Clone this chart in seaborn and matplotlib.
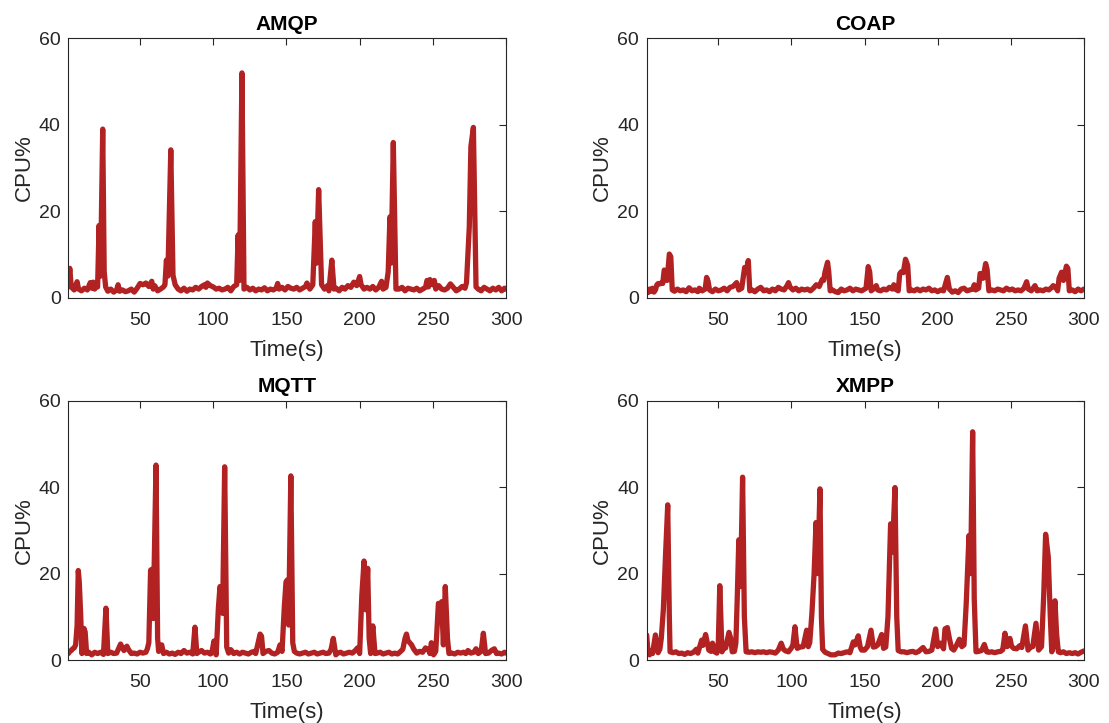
import numpy as np
import pandas as pd
import seaborn as sns
import matplotlib.pyplot as plt

LINE_COLOR = "#B22222"
AX_COLOR = "#262626"

AMQP_T = [1, 2, 3, 5, 7, 8, 10, 12, 14, 16, 17, 18, 19, 20, 21, 22, 23, 24.5, 25.5, 26.5,
          28, 30, 32, 34, 35, 36, 38, 40, 42, 44, 46, 48, 50, 52, 54, 56, 58, 59, 60, 62,
          64, 66, 67, 68, 69, 71, 72.5, 74, 76, 78, 80, 82, 84, 86, 88, 90, 92, 94, 95, 96,
          98, 100, 102, 104, 106, 108, 110, 112, 114, 116, 117, 118, 119.6, 121, 123, 125,
          127, 129, 131, 133, 135, 137, 139, 141, 143, 144, 145, 147, 149, 151, 153, 155,
          157, 159, 161, 163, 164, 166, 168, 169.7, 170.5, 172, 174, 176, 178, 179, 181,
          182.5, 184, 186, 188, 190, 192, 194, 196, 198, 200, 201, 203, 205, 207, 209, 211,
          213, 215, 216, 218, 219.5, 220.7, 221.5, 223, 224.8, 227, 229, 231, 233, 235, 237,
          239, 241, 243, 245, 246, 247, 248, 250, 251, 252, 254, 256, 258, 260, 262, 264,
          266, 268, 270, 272, 273, 274.9, 276, 277.7, 279.5, 281, 283, 285, 287, 289, 291,
          293, 295, 297, 299, 300]
AMQP_V = [2.5, 6.8, 2.5, 1.8, 3.7, 2.0, 1.6, 2.2, 1.8, 3.5, 2.2, 3.6, 2.0, 3.2, 2.5, 16.7, 5.0, 39.0, 6.0, 2.5,
          1.5, 2.0, 1.3, 1.8, 3.0, 1.5, 1.8, 1.4, 1.6, 2.0, 1.3, 2.2, 3.3, 3.0, 3.4, 2.6, 3.8, 2.0, 2.8, 1.6,
          2.0, 2.5, 3.0, 8.7, 5.0, 34.2, 5.2, 3.0, 2.0, 1.6, 2.2, 1.5, 2.0, 1.8, 2.4, 2.0, 2.6, 3.0, 2.4, 3.4,
          2.8, 2.5, 2.0, 2.2, 1.8, 2.0, 2.4, 1.6, 2.6, 3.0, 14.5, 4.0, 52.0, 2.0, 2.4, 1.8,
          2.2, 1.6, 2.0, 1.8, 2.3, 1.6, 2.0, 1.8, 2.2, 3.3, 2.0, 2.4, 1.8, 2.6, 2.2, 2.0,
          2.4, 1.8, 2.2, 2.6, 3.4, 2.0, 3.0, 17.6, 8.0, 25.0, 3.0, 2.0, 2.8, 1.6, 8.7,
          2.0, 2.2, 1.6, 2.4, 2.0, 2.8, 2.4, 3.6, 2.8, 4.9, 3.0, 2.0, 2.4, 2.0, 2.6, 1.8,
          2.4, 3.8, 2.0, 2.4, 6.0, 18.7, 8.0, 35.9, 2.0, 2.0, 2.4, 1.6, 2.2, 2.0, 1.8,
          2.2, 1.6, 2.0, 2.4, 4.0, 2.5, 4.2, 3.0, 4.0, 2.0, 2.8, 2.0, 1.8, 2.2, 3.2, 2.4,
          1.6, 2.0, 2.6, 2.2, 3.5, 16.4, 35.0, 39.4, 2.5, 2.0, 1.6, 2.4, 2.0, 1.6, 2.2,
          1.8, 2.4, 1.6, 2.2, 2.0]

COAP_T = [1, 2, 3, 4, 5, 6, 7, 8, 9, 10, 11, 12, 13, 14, 15, 16.5, 17.5, 18.5, 20, 22, 24, 26,
          28, 30, 32, 34, 36, 37, 39, 41, 42, 43, 44, 46, 48, 50, 52, 54, 56, 58, 60, 62.5,
          64, 66, 68, 69, 70.5, 71.5, 73, 75, 77, 79, 81, 83, 85, 87, 89, 91, 93, 95, 97,
          98, 99, 101, 103, 105, 107, 109, 111, 113, 115, 117, 119, 121, 122, 123, 124.7,
          125.5, 126.5, 128, 130, 132, 134, 136, 138, 140, 142, 144, 146, 148, 150, 151,
          152.5, 153.5, 154.5, 156, 158, 159, 161, 163, 165, 167, 169, 170, 171, 173, 174,
          175, 176.5, 178, 179.5, 180.5, 182, 184, 186, 188, 190, 192, 194, 196, 198, 200,
          202, 204, 206.6, 208, 210, 212, 214, 216, 218, 220, 222, 224, 225, 226, 228, 229,
          230, 231, 232.8, 233.8, 235, 237, 239, 241, 243, 245, 247, 249, 251, 253, 255,
          257, 259, 260.8, 262, 264, 266.5, 268, 270, 272, 274, 276, 278, 279, 281, 282,
          283, 284.7, 286, 288, 289, 290, 292, 294, 296, 298, 300]
COAP_V = [1.8, 1.2, 2.0, 1.5, 2.2, 1.3, 1.8, 3.0, 3.3, 3.2, 3.4, 3.3, 6.4, 6.0, 4.0, 10.1, 9.5, 1.8, 1.5, 2.0, 1.6, 1.8,
          1.4, 2.3, 1.6, 1.8, 1.4, 2.2, 1.6, 2.0, 4.7, 3.8, 1.8, 1.4, 2.0, 1.6, 1.8, 2.2, 1.6, 2.4, 2.6, 3.5,
          1.8, 2.2, 7.0, 6.0, 8.6, 1.6, 1.8, 1.4, 2.0, 2.4, 1.6, 1.8, 1.4, 2.0, 1.6, 2.4, 2.0, 1.8, 2.8,
          3.5, 2.5, 1.8, 2.2, 1.6, 2.0, 1.8, 2.0, 1.6, 2.2, 3.0, 2.6, 4.2, 4.0, 6.0, 8.2,
          6.0, 1.6, 1.8, 1.4, 1.2, 2.0, 1.6, 1.8, 2.2, 1.6, 2.0, 1.8, 1.6, 2.0, 2.2,
          7.2, 6.0, 1.6, 2.0, 2.8, 1.8, 1.6, 2.0, 1.8, 2.4, 2.0, 3.0, 2.0, 1.6, 5.5,
          6.0, 5.8, 8.9, 7.5, 1.6, 1.8, 1.6, 2.0, 1.6, 2.0, 1.8, 2.2, 1.6, 1.8, 1.4,
          1.8, 1.6, 4.7, 2.0, 1.3, 1.6, 1.2, 2.0, 2.2, 1.6, 1.8, 2.0, 3.0, 1.8, 2.2, 5.6,
          5.4, 4.5, 7.9, 6.5, 1.6, 1.8, 1.6, 2.0, 1.8, 1.6, 2.2, 1.8, 2.0, 1.6, 1.8,
          1.6, 2.2, 3.7, 2.0, 1.6, 2.8, 1.6, 1.8, 1.6, 2.0, 1.8, 2.4, 2.8, 2.2, 1.6,
          4.5, 5.9, 4.0, 7.3, 6.8, 1.6, 1.8, 1.4, 2.0, 1.6, 2.0]

MQTT_T = [1, 2, 3, 4, 5, 6, 7, 7.8, 8.5, 9.5, 10.3, 11.7, 12.5, 13.5, 15, 17, 19, 21, 23, 25,
          26.7, 28, 30, 32, 34, 36.7, 38, 39, 41, 42, 44, 46, 48, 50, 52, 54, 55, 56, 57.2,
          58.2, 59, 60.9, 62, 62.7, 64.8, 66, 68, 70, 72, 74, 76, 78, 80, 82, 84, 86, 87.5,
          88.8, 90, 92, 94, 96, 98, 99, 100.5, 102, 103.5, 104.6, 105.5, 106.4, 107.8, 109.2,
          110.5, 112, 114, 116, 118, 120, 122, 124, 126, 128, 129, 131, 132, 133, 134, 136,
          138, 140, 142, 144, 145.6, 147, 148.5, 149.7, 150.5, 151.5, 153, 154.3, 155.4, 157,
          159, 161, 163, 165, 167, 169, 171, 173, 175, 177, 179, 180.5, 182, 183.7, 185, 187,
          189, 191, 193, 195, 197, 198.5, 200, 201.5, 203, 204.3, 205.5, 206.5, 207.5, 209,
          210.5, 212, 214, 216, 218, 220, 222, 224, 226, 228, 229.5, 231, 232, 233, 235.5,
          237, 239, 241, 243, 245, 247, 248, 249, 250.5, 252, 253.8, 255, 256, 257.2, 258.5,
          260, 261, 263, 265, 267, 269, 271, 272.5, 274, 276, 278, 279.5, 281, 283, 284.5,
          286, 288, 290, 292, 293.5, 295, 297, 299, 300]
MQTT_V = [1.5, 2.0, 2.2, 2.6, 2.8, 3.5, 8.0, 20.7, 18.0, 10.0, 1.5, 7.3, 6.5, 1.5, 1.8, 1.2, 1.8, 1.5, 1.8, 1.3,
          12.0, 1.5, 1.8, 1.5, 1.6, 3.7, 2.8, 2.2, 3.2, 2.5, 1.5, 1.6, 1.4, 1.8, 1.6, 1.8, 2.6, 4.0, 20.8,
          21.0, 9.6, 45.1, 5.0, 2.0, 3.5, 1.5, 1.8, 1.4, 1.6, 1.3, 1.8, 1.5, 2.2, 1.6, 1.8, 1.4, 7.6,
          1.5, 1.8, 2.2, 1.6, 1.8, 1.4, 1.6, 4.4, 1.2, 12.0, 17.0, 15.0, 10.8, 44.7, 3.0,
          1.6, 2.4, 1.5, 1.8, 1.4, 1.8, 1.6, 1.4, 1.8, 2.0, 1.5, 4.5, 6.0, 5.5, 1.5, 2.0,
          2.2, 1.6, 1.4, 1.8, 3.5, 2.0, 12.0, 18.1, 18.5, 8.1, 42.6, 4.0, 2.0, 1.6,
          1.4, 1.6, 1.8, 1.4, 1.6, 1.8, 1.4, 1.6, 1.8, 1.5, 1.6, 2.5, 5.0, 1.2, 1.6, 1.8,
          1.4, 1.6, 1.8, 1.6, 2.2, 2.8, 1.5, 15.0, 22.9, 11.6, 21.2, 5.0, 1.5, 7.9,
          1.5, 1.6, 1.8, 1.4, 1.6, 1.8, 1.4, 1.6, 1.4, 2.0, 2.5, 5.0, 6.0, 4.5, 3.5,
          2.5, 1.6, 2.0, 1.8, 2.8, 2.4, 1.5, 4.0, 1.2, 2.0, 13.1, 12.5, 13.5, 3.5, 17.0,
          5.0, 1.5, 1.6, 1.4, 1.8, 1.6, 1.8, 1.5, 2.2, 1.6, 1.8, 2.6, 1.5, 2.0, 6.2,
          1.5, 1.6, 2.2, 2.6, 1.5, 1.6, 1.4, 1.8, 1.6]

XMPP_T = [1, 2, 3, 4, 5, 7, 8.8, 10, 11, 12.4, 14, 15.4, 16.5, 17, 19, 21, 23, 25, 27, 29, 31,
          33, 35, 36, 38.6, 39.5, 41.3, 42.5, 43.5, 45, 46, 47.5, 49, 50, 51, 52.5, 54, 55,
          57.3, 58.5, 59.5, 61, 62, 63, 64, 65.2, 66.6, 67.8, 69, 71, 73, 75, 77, 79, 81,
          83, 85, 87, 89, 91, 93, 94.5, 96, 98, 100, 101, 102.4, 103.5, 104, 106, 108,
          110.4, 111.5, 112.5, 114, 115.5, 116.8, 118, 119.5, 120.5, 121.3, 123, 125, 127,
          129.8, 132, 134, 136, 138, 140, 142.3, 143.5, 145.7, 147, 148, 150, 152, 154.4,
          156, 157.5, 159, 161.7, 163, 164.5, 166, 167.8, 169, 170.8, 172, 173, 175, 177,
          179, 181, 183, 185, 187, 189, 190, 192, 194, 196, 198.6, 200, 202, 204, 205,
          206.6, 208, 209.5, 211, 213, 214.8, 216.5, 218, 219.5, 221.4, 222.5, 223.9, 225,
          226.2, 228, 230, 231.9, 233.5, 235, 237, 239, 241, 243, 244.5, 246, 247.5, 249.4,
          250.5, 252, 254, 256, 257.5, 260, 261.8, 263.5, 265, 267.2, 269, 271, 272.5,
          273.8, 275.6, 277, 278, 279, 280.2, 281.3, 282.5, 284, 286, 288, 290, 292, 294,
          296, 298, 300]
XMPP_V = [5.8, 1.5, 1.2, 2.2, 1.5, 5.8, 1.7, 2.5, 5.0, 11.6, 25.0, 35.9, 10.0, 1.9, 1.7, 1.9, 1.5, 1.6, 1.3, 1.7, 1.5,
          1.8, 2.5, 1.6, 4.6, 3.4, 5.9, 4.0, 2.3, 2.0, 3.9, 1.9, 1.6, 4.0, 17.2, 1.9, 3.0, 2.8,
          6.4, 5.0, 1.9, 2.0, 3.9, 15.0, 27.8, 17.0, 42.3, 10.0, 1.9, 1.8, 1.9, 1.7, 1.9, 1.8, 1.9,
          1.7, 1.9, 1.8, 1.6, 2.3, 3.9, 2.5, 2.1, 1.9, 2.8, 3.5, 7.7, 4.0, 2.7, 3.0, 3.1,
          6.9, 3.1, 4.0, 10.8, 20.0, 31.8, 20.0, 39.6, 10.0, 2.5, 1.8, 1.5, 1.2,
          1.2, 1.6, 1.5, 1.7, 1.9, 1.7, 4.2, 3.5, 5.6, 3.0, 2.3, 2.3, 3.1, 6.9,
          3.0, 3.1, 3.5, 5.9, 2.7, 3.0, 10.0, 31.5, 25.0, 39.9, 10.0, 2.2, 1.9, 1.9,
          1.7, 1.9, 2.0, 1.7, 2.0, 2.6, 2.9, 1.9, 2.0, 2.3, 7.2, 3.1, 3.9, 2.6, 7.2,
          7.5, 5.0, 2.7, 2.3, 3.5, 4.8, 3.1, 3.5, 13.0, 28.8, 20.0, 52.8, 14.0,
          1.9, 2.0, 2.2, 3.6, 1.9, 1.8, 1.9, 1.7, 1.9, 2.0, 2.4, 6.2, 3.1, 5.0,
          3.2, 2.7, 2.6, 3.3, 2.9, 7.9, 2.3, 3.0, 3.1, 8.5, 2.3, 3.1, 15.0,
          29.1, 23.9, 10.0, 1.9, 3.0, 13.7, 6.0, 1.9, 1.7, 1.9, 1.5, 1.7, 1.5, 1.7,
          1.4, 1.8, 2.1]

PANELS = [
    ("AMQP", AMQP_T, AMQP_V),
    ("COAP", COAP_T, COAP_V),
    ("MQTT", MQTT_T, MQTT_V),
    ("XMPP", XMPP_T, XMPP_V),
]

# axes rectangles in figure fractions (left, bottom, width, height)
POSITIONS = [
    (0.0616, 0.5882, 0.3947, 0.3588),
    (0.5831, 0.5882, 0.3943, 0.3588),
    (0.0616, 0.0871, 0.3947, 0.3587),
    (0.5831, 0.0871, 0.3943, 0.3587),
]


def draw_panel(ax, title, t, v):
    df = pd.DataFrame({"t": t, "cpu": v})
    sns.lineplot(data=df, x="t", y="cpu", ax=ax, color=LINE_COLOR,
                 linewidth=3.8, sort=False)
    ax.set_xlim(1, 300)
    ax.set_ylim(0, 60)
    ax.set_xticks([50, 100, 150, 200, 250, 300])
    ax.set_yticks([0, 20, 40, 60])
    ax.set_title(title, fontsize=15, fontweight="bold", color="black", pad=6)
    ax.set_xlabel("Time(s)", fontsize=16, color=AX_COLOR, labelpad=8)
    ax.set_ylabel("CPU%", fontsize=16, color=AX_COLOR, labelpad=3)
    ax.tick_params(direction="in", top=True, right=True, length=5,
                   width=0.8, labelsize=14, colors=AX_COLOR)
    ax.tick_params(axis="x", pad=10)
    ax.tick_params(axis="y", pad=5.5)
    for sp in ax.spines.values():
        sp.set_color(AX_COLOR)
        sp.set_linewidth(0.8)


def main():
    sns.set_theme(style="white")
    plt.rcParams["font.family"] = ["Liberation Sans", "DejaVu Sans"]

    fig = plt.figure(figsize=(11.09, 7.23), dpi=100)
    for (title, t, v), pos in zip(PANELS, POSITIONS):
        ax = fig.add_axes(pos)
        draw_panel(ax, title, t, v)

    fig.savefig("out.png", dpi=100, facecolor="white")


if __name__ == "__main__":
    main()
